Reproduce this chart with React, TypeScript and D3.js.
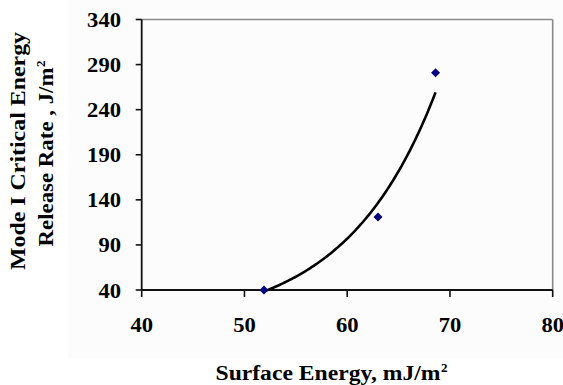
import React from "react";
import * as d3 from "d3";

const surfaceEnergy: number[] = [51.9, 63.0, 68.6];
const releaseRate: number[] = [40, 121, 281];
const xTicks: number[] = [40, 50, 60, 70, 80];
const yTicks: number[] = [40, 90, 140, 190, 240, 290, 340];
const xTitle = "Surface Energy, mJ/m";
const yTitle1 = "Mode I Critical Energy";
const yTitle2 = "Release Rate , J/m";

const W = 563;
const H = 385;
const FONT = "'Liberation Serif', 'Times New Roman', serif";

export default function App() {
  const x = d3.scaleLinear().domain([40, 80]).range([141.7, 552.7]);
  const y = d3.scaleLinear().domain([40, 340]).range([290, 19.5]);

  // Exponential trendline (least squares on ln y), like a spreadsheet trendline
  const n = surfaceEnergy.length;
  const lx = surfaceEnergy;
  const ly = releaseRate.map((v) => Math.log(v));
  const mx = d3.mean(lx) as number;
  const my = d3.mean(ly) as number;
  let sxy = 0;
  let sxx = 0;
  for (let i = 0; i < n; i++) {
    sxy += (lx[i] - mx) * (ly[i] - my);
    sxx += (lx[i] - mx) * (lx[i] - mx);
  }
  const b = sxy / sxx;
  const a = my - b * mx;
  const [x0, x1] = d3.extent(surfaceEnergy) as [number, number];
  const trend: [number, number][] = d3
    .range(0, 101)
    .map((i) => x0 + ((x1 - x0) * i) / 100)
    .map((xv) => [xv, Math.exp(a + b * xv)]);

  const line = d3
    .line<[number, number]>()
    .x((d) => x(d[0]))
    .y((d) => y(d[1]));

  const left = x(40);
  const right = x(80);
  const top = y(340);
  const bottom = y(40);
  const digitW = 11.3;

  return (
    <div style={{ position: "fixed", left: 0, top: 0 }}>
      <svg width={W} height={H} style={{ display: "block", fontFamily: FONT }}>
        <rect x={0} y={0} width={W} height={H} fill="#ffffff" />
        <rect x={68} y={0} width={W - 68} height={358} fill="#fcfcfc" />
        {/* top & right border */}
        <line x1={left} x2={right} y1={top} y2={top} stroke="#8a8a8a" strokeWidth={1.6} />
        <line x1={right} x2={right} y1={top} y2={bottom} stroke="#8a8a8a" strokeWidth={1.6} />
        {/* axes */}
        <line x1={left} x2={left} y1={top} y2={bottom} stroke="#111" strokeWidth={1.8} />
        <line x1={left} x2={right} y1={bottom} y2={bottom} stroke="#111" strokeWidth={1.8} />
        {yTicks.map((t) => (
          <g key={"y" + t}>
            <line x1={left - 6} x2={left} y1={y(t)} y2={y(t)} stroke="#111" strokeWidth={1.6} />
            <text
              x={121}
              y={y(t) + 7.5}
              textAnchor="end"
              fontSize={21}
              fontWeight="bold"
              fill="#000"
              textLength={String(t).length * digitW}
              lengthAdjust="spacingAndGlyphs"
            >
              {t}
            </text>
          </g>
        ))}
        {xTicks.map((t) => (
          <g key={"x" + t}>
            <line x1={x(t)} x2={x(t)} y1={bottom} y2={bottom + 7} stroke="#111" strokeWidth={1.6} />
            <text
              x={x(t)}
              y={331.5}
              textAnchor="middle"
              fontSize={21}
              fontWeight="bold"
              fill="#000"
              textLength={String(t).length * digitW}
              lengthAdjust="spacingAndGlyphs"
            >
              {t}
            </text>
          </g>
        ))}
        {/* trendline */}
        <path d={line(trend) || ""} fill="none" stroke="#000" strokeWidth={2.6} />
        {/* markers */}
        {surfaceEnergy.map((sx, i) => {
          const cx = x(sx);
          const cy = y(releaseRate[i]);
          const r = 4.5;
          return (
            <path
              key={"m" + i}
              d={`M${cx},${cy - r}L${cx + r},${cy}L${cx},${cy + r}L${cx - r},${cy}Z`}
              fill="#000080"
            />
          );
        })}
        {/* x title */}
        <text
          x={215.5}
          y={380}
          fontSize={20}
          fontWeight="bold"
          fill="#000"
          textLength={225}
          lengthAdjust="spacingAndGlyphs"
        >
          {xTitle}
        </text>
        <text x={441} y={372} fontSize={13} fontWeight="bold" fill="#000">
          2
        </text>
        {/* y title */}
        <g transform="translate(25,270) rotate(-90)">
          <text
            x={0}
            y={0}
            fontSize={20}
            fontWeight="bold"
            fill="#000"
            textLength={238}
            lengthAdjust="spacingAndGlyphs"
          >
            {yTitle1}
          </text>
        </g>
        <g transform="translate(53,246.5) rotate(-90)">
          <text
            x={0}
            y={0}
            fontSize={20}
            fontWeight="bold"
            fill="#000"
            textLength={179}
            lengthAdjust="spacingAndGlyphs"
          >
            {yTitle2}
          </text>
          <text x={179.5} y={-8} fontSize={13} fontWeight="bold" fill="#000">
            2
          </text>
        </g>
      </svg>
    </div>
  );
}
